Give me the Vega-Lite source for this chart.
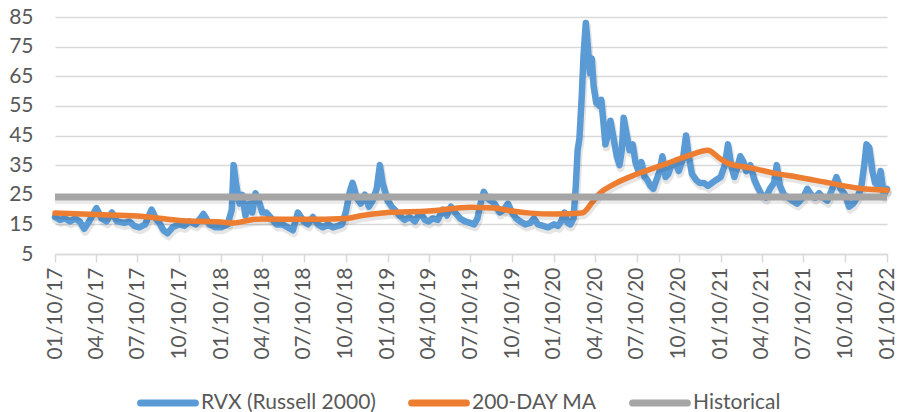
{
  "$schema": "https://vega.github.io/schema/vega-lite/v6.json",
  "width": 832,
  "height": 237,
  "autosize": {"type": "none"},
  "padding": {"left": 55, "top": 17, "right": 10, "bottom": 158},
  "background": "white",
  "config": {"view": {"stroke": null}, "font": "Lato"},
  "datasets": {
    "rvx": [
      {"d":"2017-01-10","v":17.5},{"d":"2017-01-21","v":16.5},{"d":"2017-02-01","v":17},{"d":"2017-02-12","v":16},{"d":"2017-02-23","v":17},{"d":"2017-03-05","v":16},{"d":"2017-03-15","v":13.5},{"d":"2017-03-26","v":16},{"d":"2017-04-11","v":20.5},{"d":"2017-04-22","v":17},{"d":"2017-05-03","v":16},{"d":"2017-05-15","v":19},{"d":"2017-05-26","v":16},{"d":"2017-06-11","v":15.5},{"d":"2017-06-22","v":16},{"d":"2017-07-03","v":14.5},{"d":"2017-07-14","v":14},{"d":"2017-07-27","v":15},{"d":"2017-08-10","v":20},{"d":"2017-08-19","v":17},{"d":"2017-08-27","v":15.5},{"d":"2017-09-05","v":13},{"d":"2017-09-14","v":12},{"d":"2017-09-25","v":14},{"d":"2017-10-10","v":15},{"d":"2017-10-21","v":14.5},{"d":"2017-11-01","v":16},{"d":"2017-11-15","v":15},{"d":"2017-12-02","v":18.5},{"d":"2017-12-15","v":15},{"d":"2017-12-28","v":14},
      {"d":"2018-01-10","v":14},{"d":"2018-01-24","v":15},{"d":"2018-02-02","v":20},{"d":"2018-02-06","v":35},{"d":"2018-02-12","v":28},{"d":"2018-02-19","v":22},{"d":"2018-02-25","v":25},{"d":"2018-03-04","v":18},{"d":"2018-03-13","v":22},{"d":"2018-03-19","v":19},{"d":"2018-03-26","v":25.5},{"d":"2018-04-04","v":22},{"d":"2018-04-10","v":19},{"d":"2018-04-19","v":19},{"d":"2018-04-30","v":17},{"d":"2018-05-11","v":15},{"d":"2018-05-24","v":15},{"d":"2018-06-05","v":14},{"d":"2018-06-16","v":13},{"d":"2018-06-27","v":19},{"d":"2018-07-10","v":16},{"d":"2018-07-19","v":15},{"d":"2018-07-30","v":17.5},{"d":"2018-08-10","v":15},{"d":"2018-08-21","v":14},{"d":"2018-09-01","v":15},{"d":"2018-09-12","v":14},{"d":"2018-09-23","v":14.5},{"d":"2018-10-02","v":15},{"d":"2018-10-10","v":19},{"d":"2018-10-19","v":26},{"d":"2018-10-25","v":29},{"d":"2018-11-03","v":24},{"d":"2018-11-12","v":22},{"d":"2018-11-21","v":25},{"d":"2018-11-30","v":21},{"d":"2018-12-08","v":23},{"d":"2018-12-17","v":27},{"d":"2018-12-24","v":35},{"d":"2018-12-30","v":29},
      {"d":"2019-01-10","v":23},{"d":"2019-01-19","v":21},{"d":"2019-01-28","v":19.5},{"d":"2019-02-05","v":18},{"d":"2019-02-16","v":16.5},{"d":"2019-02-27","v":17.5},{"d":"2019-03-11","v":16},{"d":"2019-03-22","v":19},{"d":"2019-04-02","v":16.5},{"d":"2019-04-10","v":16},{"d":"2019-04-19","v":17},{"d":"2019-04-30","v":16.5},{"d":"2019-05-11","v":20},{"d":"2019-05-20","v":18},{"d":"2019-05-29","v":21},{"d":"2019-06-07","v":19},{"d":"2019-06-18","v":17},{"d":"2019-06-29","v":16},{"d":"2019-07-10","v":15.5},{"d":"2019-07-19","v":15},{"d":"2019-07-26","v":17},{"d":"2019-08-02","v":22},{"d":"2019-08-09","v":26},{"d":"2019-08-16","v":24},{"d":"2019-08-24","v":23},{"d":"2019-09-02","v":22},{"d":"2019-09-13","v":19},{"d":"2019-09-22","v":20},{"d":"2019-10-01","v":22},{"d":"2019-10-10","v":19},{"d":"2019-10-19","v":17},{"d":"2019-10-28","v":16},{"d":"2019-11-08","v":15},{"d":"2019-11-19","v":15.5},{"d":"2019-11-27","v":17},{"d":"2019-12-06","v":15},{"d":"2019-12-17","v":14.5},{"d":"2019-12-28","v":14},
      {"d":"2020-01-10","v":15},{"d":"2020-01-19","v":14.5},{"d":"2020-01-26","v":16},{"d":"2020-02-02","v":19},{"d":"2020-02-09","v":15.5},{"d":"2020-02-15","v":15},{"d":"2020-02-22","v":17},{"d":"2020-02-27","v":28},{"d":"2020-03-02","v":40},{"d":"2020-03-06","v":44},{"d":"2020-03-11","v":58},{"d":"2020-03-15","v":72},{"d":"2020-03-20","v":83},{"d":"2020-03-24","v":76},{"d":"2020-03-29","v":66},{"d":"2020-04-02","v":71},{"d":"2020-04-06","v":62},{"d":"2020-04-12","v":56},{"d":"2020-04-19","v":55},{"d":"2020-04-23","v":57},{"d":"2020-04-28","v":49},{"d":"2020-05-02","v":42},{"d":"2020-05-07","v":45},{"d":"2020-05-13","v":50},{"d":"2020-05-20","v":44},{"d":"2020-05-27","v":38},{"d":"2020-06-02","v":35},{"d":"2020-06-07","v":40},{"d":"2020-06-11","v":51},{"d":"2020-06-18","v":45},{"d":"2020-06-24","v":40},{"d":"2020-07-01","v":42},{"d":"2020-07-07","v":36},{"d":"2020-07-14","v":33},{"d":"2020-07-20","v":36},{"d":"2020-07-27","v":31},{"d":"2020-08-02","v":30},{"d":"2020-08-09","v":28},{"d":"2020-08-15","v":27},{"d":"2020-08-22","v":30},{"d":"2020-08-29","v":33},{"d":"2020-09-04","v":38},{"d":"2020-09-11","v":31},{"d":"2020-09-17","v":32},{"d":"2020-09-24","v":35},{"d":"2020-10-02","v":36},{"d":"2020-10-10","v":33},{"d":"2020-10-19","v":37},{"d":"2020-10-26","v":45},{"d":"2020-11-01","v":38},{"d":"2020-11-08","v":32},{"d":"2020-11-17","v":30},{"d":"2020-11-25","v":29},{"d":"2020-12-04","v":29},{"d":"2020-12-13","v":28},{"d":"2020-12-22","v":29},{"d":"2020-12-31","v":30},
      {"d":"2021-01-10","v":31},{"d":"2021-01-19","v":35},{"d":"2021-01-26","v":42},{"d":"2021-02-02","v":35},{"d":"2021-02-09","v":31},{"d":"2021-02-15","v":34},{"d":"2021-02-22","v":38},{"d":"2021-03-01","v":36},{"d":"2021-03-07","v":33},{"d":"2021-03-16","v":35},{"d":"2021-03-25","v":30},{"d":"2021-04-03","v":27},{"d":"2021-04-10","v":25},{"d":"2021-04-19","v":24},{"d":"2021-04-28","v":27},{"d":"2021-05-07","v":29},{"d":"2021-05-13","v":35},{"d":"2021-05-20","v":28},{"d":"2021-05-29","v":25},{"d":"2021-06-07","v":24},{"d":"2021-06-16","v":23},{"d":"2021-06-27","v":22},{"d":"2021-07-03","v":23},{"d":"2021-07-10","v":24},{"d":"2021-07-19","v":27},{"d":"2021-07-28","v":25},{"d":"2021-08-05","v":24},{"d":"2021-08-14","v":25.5},{"d":"2021-08-23","v":24},{"d":"2021-09-01","v":23},{"d":"2021-09-12","v":27},{"d":"2021-09-21","v":31},{"d":"2021-09-30","v":27},{"d":"2021-10-10","v":25},{"d":"2021-10-19","v":21},{"d":"2021-10-28","v":22},{"d":"2021-11-05","v":24},{"d":"2021-11-14","v":27},{"d":"2021-11-21","v":35},{"d":"2021-11-26","v":42},{"d":"2021-12-02","v":41},{"d":"2021-12-09","v":33},{"d":"2021-12-15","v":29},{"d":"2021-12-22","v":28},{"d":"2021-12-27","v":33},{"d":"2022-01-03","v":25},{"d":"2022-01-10","v":27}
    ],
    "ma": [
      {"d":"2017-01-10","v":18.8},{"d":"2017-04-10","v":18.3},{"d":"2017-07-10","v":17.8},{"d":"2017-09-10","v":16.8},{"d":"2017-10-10","v":16.3},{"d":"2018-01-10","v":15.8},{"d":"2018-02-06","v":15.5},{"d":"2018-03-15","v":16.5},{"d":"2018-04-10","v":16.8},{"d":"2018-07-10","v":16.7},{"d":"2018-10-10","v":17},{"d":"2018-11-15","v":18},{"d":"2019-01-10","v":19},{"d":"2019-04-10","v":19.5},{"d":"2019-07-10","v":20.8},{"d":"2019-09-01","v":20.5},{"d":"2019-10-10","v":19.5},{"d":"2019-11-20","v":18.8},{"d":"2020-01-10","v":18.5},{"d":"2020-03-11","v":18.8},{"d":"2020-04-06","v":23},{"d":"2020-04-20","v":25.5},{"d":"2020-05-20","v":28.5},{"d":"2020-07-10","v":32},{"d":"2020-09-04","v":35},{"d":"2020-10-28","v":38},{"d":"2020-12-13","v":40},{"d":"2021-01-06","v":37.5},{"d":"2021-01-28","v":35.5},{"d":"2021-03-20","v":34},{"d":"2021-05-10","v":32.2},{"d":"2021-06-27","v":31},{"d":"2021-09-05","v":29},{"d":"2021-11-05","v":27.3},{"d":"2022-01-10","v":26.5}
    ],
    "hist": [
      {"d":"2017-01-10","v":24.2},{"d":"2022-01-10","v":24.2}
    ]
  },
  "encoding": {
    "x": {
      "field": "d", "type": "temporal",
      "scale": {"type": "utc", "domain": [{"year":2017,"month":1,"date":10,"utc":true},{"year":2022,"month":1,"date":10,"utc":true}]},
      "axis": {
        "title": null, "grid": false,
        "values": [
          {"year":2017,"month":1,"date":10,"utc":true},{"year":2017,"month":4,"date":10,"utc":true},{"year":2017,"month":7,"date":10,"utc":true},{"year":2017,"month":10,"date":10,"utc":true},
          {"year":2018,"month":1,"date":10,"utc":true},{"year":2018,"month":4,"date":10,"utc":true},{"year":2018,"month":7,"date":10,"utc":true},{"year":2018,"month":10,"date":10,"utc":true},
          {"year":2019,"month":1,"date":10,"utc":true},{"year":2019,"month":4,"date":10,"utc":true},{"year":2019,"month":7,"date":10,"utc":true},{"year":2019,"month":10,"date":10,"utc":true},
          {"year":2020,"month":1,"date":10,"utc":true},{"year":2020,"month":4,"date":10,"utc":true},{"year":2020,"month":7,"date":10,"utc":true},{"year":2020,"month":10,"date":10,"utc":true},
          {"year":2021,"month":1,"date":10,"utc":true},{"year":2021,"month":4,"date":10,"utc":true},{"year":2021,"month":7,"date":10,"utc":true},{"year":2021,"month":10,"date":10,"utc":true},
          {"year":2022,"month":1,"date":10,"utc":true}
        ],
        "labelExpr": "utcFormat(datum.value, '%m/%d/%y')",
        "labelAngle": -90, "labelFont": "Lato", "labelFontSize": 21, "labelColor": "#595959",
        "labelPadding": 5, "labelOverlap": false, "labelFlush": false, "labelBound": false,
        "domainColor": "#D9D9D9", "domainWidth": 1.5,
        "tickColor": "#D9D9D9", "tickWidth": 1.5, "tickSize": 8
      }
    },
    "y": {
      "field": "v", "type": "quantitative",
      "scale": {"domain": [5, 85], "nice": false, "zero": false},
      "axis": {
        "title": null, "values": [5,15,25,35,45,55,65,75,85],
        "grid": true, "gridColor": "#D9D9D9", "gridWidth": 1.5,
        "domain": false, "ticks": false,
        "labelFont": "Lato", "labelFontSize": 21, "labelColor": "#595959", "labelPadding": 22
      }
    }
  },
  "layer": [
    {
      "data": {"name": "rvx"},
      "mark": {"type": "line", "strokeWidth": 8, "strokeCap": "round", "strokeJoin": "round", "color": "#000000", "opacity": 0.1, "xOffset": 1, "yOffset": 3},
      "encoding": {}
    },
    {
      "data": {"name": "rvx"},
      "mark": {"type": "line", "strokeWidth": 6.5, "strokeCap": "round", "strokeJoin": "round"},
      "encoding": {
        "color": {
          "datum": "RVX (Russell 2000)",
          "scale": {"domain": ["RVX (Russell 2000)", "200-DAY MA", "Historical"], "range": ["#5B9BD5", "#ED7D31", "#A5A5A5"]},
          "legend": {
            "title": null, "orient": "none", "legendX": 82, "legendY": 355, "direction": "horizontal",
            "symbolType": "stroke", "symbolSize": 3000, "symbolStrokeWidth": 7,
            "labelFont": "Lato", "labelFontSize": 21, "labelColor": "#595959", "labelLimit": 400,
            "labelOffset": 2, "columnPadding": 21,
            "encode": {"symbols": {"update": {"strokeCap": {"value": "round"}}}}
          }
        }
      }
    },
    {
      "data": {"name": "ma"},
      "mark": {"type": "line", "strokeWidth": 7, "strokeCap": "round", "strokeJoin": "round", "interpolate": "monotone", "color": "#000000", "opacity": 0.1, "xOffset": 1, "yOffset": 3},
      "encoding": {}
    },
    {
      "data": {"name": "ma"},
      "mark": {"type": "line", "strokeWidth": 5.5, "strokeCap": "round", "strokeJoin": "round", "interpolate": "monotone"},
      "encoding": {"color": {"datum": "200-DAY MA"}}
    },
    {
      "data": {"name": "hist"},
      "mark": {"type": "line", "strokeWidth": 8, "strokeCap": "butt", "color": "#000000", "opacity": 0.08, "yOffset": 3},
      "encoding": {}
    },
    {
      "data": {"name": "hist"},
      "mark": {"type": "line", "strokeWidth": 7, "strokeCap": "butt"},
      "encoding": {"color": {"datum": "Historical"}}
    }
  ]
}
